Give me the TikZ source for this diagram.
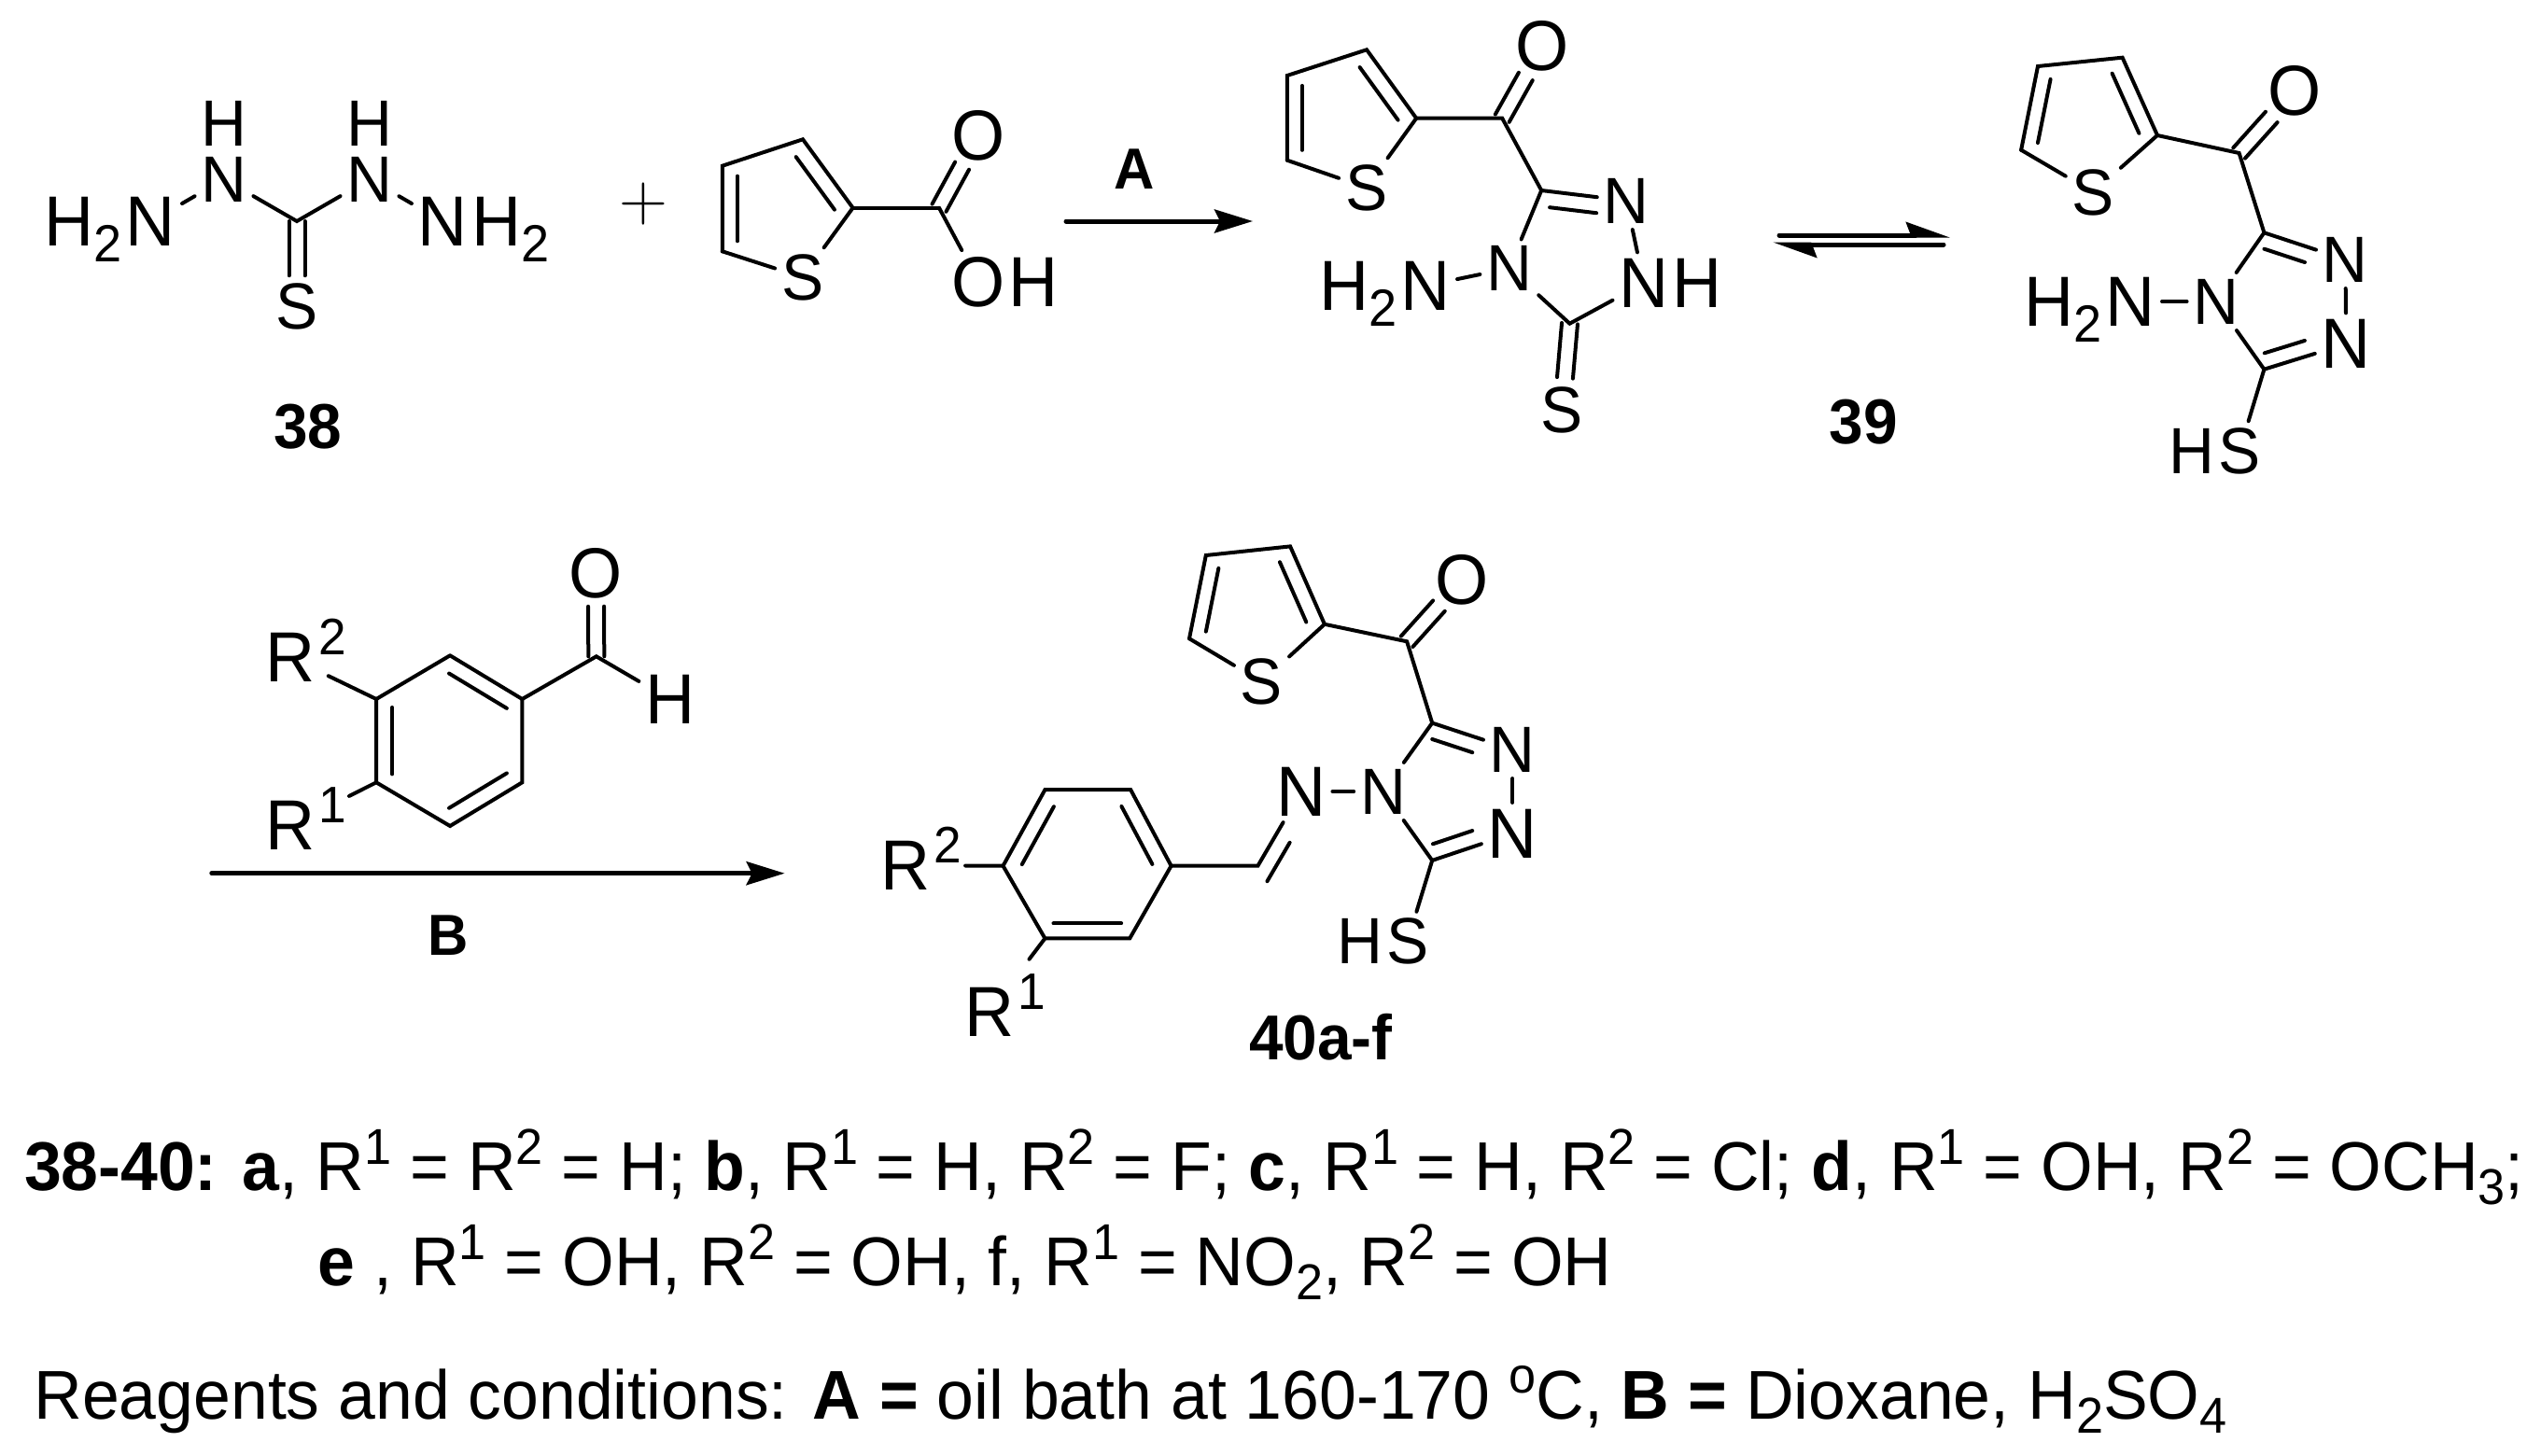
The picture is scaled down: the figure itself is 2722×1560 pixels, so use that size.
\documentclass[tikz,border=0pt]{standalone}
\usepackage{fontspec}
\setmainfont{Liberation Sans}[FakeStretch=0.967]
\usetikzlibrary{positioning,calc,arrows.meta}
\newcommand{\atomsub}[1]{\raisebox{-17pt}{\fontsize{56}{56}\selectfont #1}}
\newcommand{\linesub}[1]{\raisebox{-15pt}{\fontsize{54}{54}\selectfont #1}}
\newcommand{\linesup}[1]{\raisebox{28pt}{\fontsize{54}{54}\selectfont #1}}
\newcommand{\rlabel}[1]{R\smash{\rlap{\raisebox{29pt}{\kern4pt\fontsize{55}{55}\selectfont #1}}}}
\newcommand{\inbond}[5]{\draw ($(#1)!#4!(#2)!#3!90:(#2)$) -- ($(#1)!#5!(#2)!#3!90:(#2)$);}
\newcommand{\sidebond}[3]{\inbond{#1}{#2}{8.5pt}{0}{#3}\inbond{#1}{#2}{-8.5pt}{0}{#3}}
\newcommand{\thiophene}[1]{
	\draw (#1c5) -- (#1c4) -- (#1c3) -- (#1c2) -- (#1s);
	\draw (#1c5) -- (#1s);
	\inbond{#1c2}{#1c3}{17pt}{.11}{.88}
	\inbond{#1c4}{#1c5}{16pt}{.12}{.88}
}
\tikzset{
	atom/.style={inner sep=5pt,font=\fontsize{70}{70}\selectfont},
	bigatom/.style={inner sep=5pt,font=\fontsize{76}{76}\selectfont},
	tail/.style={inner sep=0pt,font=\fontsize{76}{76}\selectfont},
	smalltail/.style={inner sep=0pt,font=\fontsize{70}{70}\selectfont},
	compound/.style={font=\bfseries\fontsize{68}{68}\selectfont},
	reagent/.style={font=\bfseries\fontsize{62}{62}\selectfont},
	legend/.style={anchor=base west,inner sep=0pt,font=\fontsize{74}{80}\selectfont},
	reaction/.style={line width=5pt,-{Stealth[length=41pt,width=25pt,inset=6pt]}},
	halfarrow/.style={line width=5pt,-{Stealth[harpoon,length=40pt,width=28pt,inset=5pt]}},
}
\begin{document}
\begin{tikzpicture}[x=1pt,y=-1pt,line width=4pt,line cap=round]
	\useasboundingbox (0,0) rectangle (2722,1560);
	% thiocarbohydrazide
	\coordinate (c38) at (318,237);
	\node[atom] (n1) at (240,192) {N};
	\node[atom] (n2) at (396,192) {N};
	\node[smalltail] (h1) [above=2pt of n1] {H};
	\node[smalltail] (h2) [above=2pt of n2] {H};
	\node[atom] (s38) at (318,328) {S};
	\node[bigatom] (n3) at (161.5,237.5) {N};
	\node[bigatom] (n4) at (474.5,237.5) {N};
	\node[tail] (h2a) [base left=-5pt of n3] {H\atomsub{2}};
	\node[tail] (h2b) [base right=-5pt of n4] {H\atomsub{2}};
	\draw (n3) -- (n1);
	\draw (n4) -- (n2);
	\draw (n1) -- (c38) -- (n2);
	\sidebond{c38}{s38}{.64}
	\node[compound] (38) at (330,457) {38};
	\node[inner sep=0pt,font=\fontfamily{lmr}\fontsize{72}{72}\selectfont] (plus) at (689,219) {+};
	% thiophene acid
	\coordinate (ac2) at (913.6,222.7);
	\coordinate (ac3) at (860,149.3);
	\coordinate (ac4) at (773.8,177.7);
	\coordinate (ac5) at (773.8,269.3);
	\coordinate (ac6) at (1006,222.7);
	\node[atom] (as) at (859.6,297) {S};
	\node[bigatom] (ao) at (1048.4,145) {O};
	\node[bigatom] (aoh) at (1048.4,302) {O};
	\node[tail] (aoh2) [base right=-5pt of aoh] {H};
	\thiophene{a}
	\draw (ac2) -- (ac6);
	\draw (ac6) -- (aoh);
	\sidebond{ac6}{ao}{.58}
	% first arrow
	\coordinate (a1) at (1142,237);
	\coordinate (a2) at (1342,237);
	\draw[reaction] (a1) -- (a2);
	\node[reagent] (A) at (1215,181) {A};
	% thione
	\coordinate (bc2) at (1517.2,126.7);
	\coordinate (bc3) at (1464,53.3);
	\coordinate (bc4) at (1378.8,81);
	\coordinate (bc5) at (1378.8,171.7);
	\coordinate (bc6) at (1609.2,126.7);
	\coordinate (bc7) at (1651.2,204);
	\coordinate (bc8) at (1681.5,346.7);
	\node[atom] (bs) at (1463.7,201) {S};
	\node[bigatom] (bo) at (1652.5,49.5) {O};
	\node[atom] (bn1) at (1742.2,215) {N};
	\node[bigatom] (bn2) at (1761,303.5) {N};
	\node[tail] (bh) [base right=-5pt of bn2] {H};
	\node[atom] (bn3) at (1616.8,287.5) {N};
	\node[bigatom] (bn4) at (1527.5,306) {N};
	\node[tail] (bh2) [base left=-5pt of bn4] {H\atomsub{2}};
	\node[atom] (bs2) at (1673.5,439) {S};
	\thiophene{b}
	\draw (bc2) -- (bc6) -- (bc7) -- (bn1);
	\inbond{bn1}{bc7}{17pt}{.33}{.88}
	\sidebond{bc6}{bo}{.58}
	\draw (bc7) -- (bn3);
	\draw (bn1) -- (bn2);
	\draw (bn3) -- (bn4);
	\draw (bn3) -- (bc8) -- (bn2);
	\sidebond{bc8}{bs2}{.63}
	% equilibrium
	\coordinate (e1) at (1906,252);
	\coordinate (e2) at (2089,252);
	\coordinate (e3) at (2082,262);
	\coordinate (e4) at (1899,262);
	\draw[halfarrow] (e1) -- (e2);
	\draw[halfarrow] (e3) -- (e4);
	\node[compound] (39) at (1996,452) {39};
	% thiol
	\coordinate (cc2) at (2311,145);
	\coordinate (cc3) at (2273.6,61.7);
	\coordinate (cc4) at (2183,71);
	\coordinate (cc5) at (2165.1,160.7);
	\coordinate (cc6) at (2398.6,164);
	\coordinate (cc7) at (2425.4,249.3);
	\coordinate (cc8) at (2425.4,395.7);
	\node[atom] (cs) at (2242.3,206) {S};
	\node[bigatom] (co) at (2458.4,97.5) {O};
	\node[atom] (cn1) at (2512.4,278) {N};
	\node[bigatom] (cn2) at (2513.3,368.5) {N};
	\node[atom] (cn3) at (2374,323) {N};
	\node[bigatom] (cn4) at (2282.5,323) {N};
	\node[tail] (ch2) [base left=-5pt of cn4] {H\atomsub{2}};
	\node[atom] (cs2) at (2399,483) {S};
	\node[smalltail] (ch) [base left=-5pt of cs2] {H};
	\thiophene{c}
	\draw (cc2) -- (cc6) -- (cc7) -- (cn1);
	\inbond{cn1}{cc7}{16.5pt}{.44}{.94}
	\sidebond{cc6}{co}{.58}
	\draw (cc7) -- (cn3);
	\draw (cn1) -- (cn2);
	\draw (cn2) -- (cc8) -- (cn3);
	\inbond{cc8}{cn2}{16.5pt}{.06}{.55}
	\draw (cn3) -- (cn4);
	\draw (cc8) -- (cs2);
	% aldehyde
	\coordinate (d1) at (482.1,702.3);
	\coordinate (d2) at (559.4,749);
	\coordinate (d3) at (559.4,838.3);
	\coordinate (d4) at (482.1,885);
	\coordinate (d5) at (403.1,838.3);
	\coordinate (d6) at (403.1,749);
	\coordinate (d7) at (638.8,703.3);
	\node[bigatom] (do) at (638.4,614) {O};
	\node[bigatom] (dh) at (717.9,749.5) {H};
	\node[bigatom] (dr2) at (311,704.5) {\rlabel{2}};
	\node[bigatom] (dr1) at (311,884.5) {\rlabel{1}};
	\draw (d1) -- (d2) -- (d3) -- (d4) -- (d5) -- (d6) -- (d1);
	\inbond{d2}{d1}{17pt}{.1}{.9}
	\inbond{d6}{d5}{17pt}{.1}{.9}
	\inbond{d4}{d3}{17pt}{.1}{.9}
	\draw[shorten >=8pt] (d6) -- (dr2);
	\draw[shorten >=33pt] (d5) -- (dr1);
	\draw (d2) -- (d7) -- (dh);
	\sidebond{d7}{do}{.6}
	% second arrow
	\coordinate (b1) at (226.8,935.7);
	\coordinate (b2) at (840.6,935.7);
	\draw[reaction] (b1) -- (b2);
	\node[reagent] (B) at (480,1002) {B};
	% products
	\coordinate (fc2) at (1418.9,668.8);
	\coordinate (fc3) at (1382.1,585.4);
	\coordinate (fc4) at (1291.8,595);
	\coordinate (fc5) at (1274,684.2);
	\coordinate (fc6) at (1507.1,687.3);
	\coordinate (fc7) at (1534.2,774.6);
	\coordinate (fc8) at (1534.2,921.9);
	\coordinate (fc9) at (1347.4,927.7);
	\coordinate (f1) at (1254.6,927.7);
	\coordinate (f2) at (1211.2,846.2);
	\coordinate (f3) at (1119.4,846.2);
	\coordinate (f4) at (1074.5,927.7);
	\coordinate (f5) at (1119.4,1005.4);
	\coordinate (f6) at (1210.2,1005.4);
	\node[atom] (fs) at (1351.5,730.5) {S};
	\node[bigatom] (fo) at (1566.3,621.5) {O};
	\node[atom] (fn1) at (1620.4,803) {N};
	\node[bigatom] (fn2) at (1620.4,893) {N};
	\node[atom] (fn3) at (1481.6,848) {N};
	\node[bigatom] (fn4) at (1393.9,848) {N};
	\node[atom] (fs2) at (1507.7,1008.5) {S};
	\node[smalltail] (fh) [base left=-5pt of fs2] {H};
	\node[bigatom] (fr2) at (969.6,927.3) {\rlabel{2}};
	\node[bigatom] (fr1) at (1060,1084) {\rlabel{1}};
	\thiophene{f}
	\draw (fc2) -- (fc6) -- (fc7) -- (fn1);
	\inbond{fn1}{fc7}{16.5pt}{.44}{.94}
	\sidebond{fc6}{fo}{.58}
	\draw (fc7) -- (fn3);
	\draw (fn1) -- (fn2);
	\draw (fn2) -- (fc8) -- (fn3);
	\inbond{fc8}{fn2}{16.5pt}{.07}{.56}
	\draw (fn3) -- (fn4);
	\draw (fc8) -- (fs2);
	\draw (fn4) -- (fc9) -- (f1);
	\inbond{fc9}{fn4}{-17pt}{-.1}{.42}
	\draw (f1) -- (f2) -- (f3) -- (f4) -- (f5) -- (f6) -- (f1);
	\inbond{f3}{f4}{17pt}{.12}{.88}
	\inbond{f5}{f6}{16pt}{.1}{.9}
	\inbond{f1}{f2}{17pt}{.12}{.88}
	\draw[shorten >=31pt] (f4) -- (fr2);
	\draw[shorten >=29pt] (f5) -- (fr1);
	\node[compound] (40) at (1415,1111) {40a-f};
	% text lines
	\node[legend] (l1) at (24,1275) {\textbf{38-40: a}, R\linesup{1} = R\linesup{2} = H; \textbf{b}, R\linesup{1} = H, R\linesup{2} = F; \textbf{c}, R\linesup{1} = H, R\linesup{2} = Cl; \textbf{d}, R\linesup{1} = OH, R\linesup{2} = OCH\linesub{3};};
	\node[legend] (l2) at (338.7,1377.3) {\textbf{e} , R\linesup{1} = OH, R\linesup{2} = OH, f, R\linesup{1} = NO\linesub{2}, R\linesup{2} = OH};
	\node[legend] (l3) at (34.5,1520) {Reagents and conditions: \textbf{A =} oil bath at 160-170 \linesup{o}C, \textbf{B =} Dioxane, H\linesub{2}SO\linesub{4}};
\end{tikzpicture}
\end{document}
